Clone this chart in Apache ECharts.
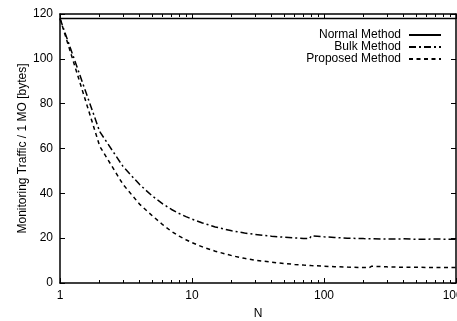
<!DOCTYPE html>
<html>
<head>
<meta charset="utf-8">
<script src="https://cdn.jsdelivr.net/npm/echarts@6/dist/echarts.min.js"></script>
<style>
  html, body { margin: 0; padding: 0; background: #fff; }
  #chart { width: 457px; height: 321px; }
</style>
</head>
<body>
<div id="chart"></div>
<script>
// Monitoring traffic per MO versus N (log scale)
const seriesNames = ['Normal Method', 'Bulk Method', 'Proposed Method'];

const normalN = [1, 1000];
const normalValues = [118, 118];

const bulkN = [1, 2, 3, 4, 5, 6, 7, 8, 9, 10, 12, 15, 20, 25, 30, 40, 50, 60, 70, 78, 80, 100, 120, 150, 200, 300, 400, 500, 700, 1000];
const bulkValues = [118, 67.5, 52, 44, 38.8, 35.3, 32.8, 31.0, 29.6, 28.5, 26.8, 25.0, 23.3, 22.3, 21.7, 20.9, 20.4, 20.1, 19.9, 19.8, 21.0, 20.6, 20.3, 20.0, 19.8, 19.6, 19.7, 19.5, 19.6, 19.5];

const proposedN = [1, 2, 3, 4, 5, 6, 7, 8, 9, 10, 12, 15, 20, 25, 30, 40, 50, 60, 70, 80, 100, 120, 150, 200, 220, 230, 300, 400, 500, 700, 1000];
const proposedValues = [118, 61, 44, 35.2, 30.0, 26.0, 23.0, 20.9, 19.3, 18.0, 16.1, 14.2, 12.2, 11.0, 10.2, 9.3, 8.7, 8.3, 8.0, 7.8, 7.5, 7.3, 7.1, 6.9, 6.8, 7.5, 7.2, 7.0, 7.0, 6.9, 6.9];

const xMajorTicks = [1, 10, 100, 1000];
const xMinorTicks = [2, 3, 4, 5, 6, 7, 8, 9, 20, 30, 40, 50, 60, 70, 80, 90, 200, 300, 400, 500, 600, 700, 800, 900];
const yTicks = [0, 20, 40, 60, 80, 100, 120];

const FONT = 'Liberation Sans, Arial, sans-serif';
const pairs = (xs, ys) => xs.map((x, i) => [x, ys[i]]);

const frameLine = { show: true, onZero: false, lineStyle: { color: '#000', width: 1.5 } };
const hiddenLine = { show: false, onZero: false };

function logAxis(position, opts) {
  return Object.assign({
    type: 'log', logBase: 10, min: 1, max: 1000, position: position,
    splitLine: { show: false }, minorTick: { show: false }
  }, opts);
}

const chart = echarts.init(document.getElementById('chart'), null, { renderer: 'canvas' });
chart.setOption({
  animation: false,
  backgroundColor: '#fff',
  textStyle: { fontFamily: FONT, color: '#000' },
  grid: { left: 60, right: 1, top: 14, bottom: 38, containLabel: false, outerBoundsMode: 'none' },
  legend: {
    orient: 'vertical', right: 15, top: 29, align: 'right',
    itemWidth: 32, itemHeight: 12, itemGap: 0, padding: 0,
    itemStyle: { opacity: 0 },
    textStyle: { fontFamily: FONT, fontSize: 12, color: '#000', padding: [0, 3, 0, 0] },
    data: seriesNames
  },
  xAxis: [
    logAxis('bottom', {
      name: 'N', nameLocation: 'middle', nameGap: 25, nameMoveOverlap: false,
      nameTextStyle: { fontFamily: FONT, fontSize: 12, color: '#000' },
      axisLine: frameLine,
      axisTick: { inside: true, length: 5, customValues: xMajorTicks, lineStyle: { color: '#000', width: 1 } },
      axisLabel: {
        customValues: xMajorTicks, margin: 7, fontFamily: FONT, fontSize: 12, color: '#000',
        showMinLabel: true, showMaxLabel: true, hideOverlap: false,
        formatter: (v) => String(Math.round(v))
      }
    }),
    logAxis('bottom', {
      axisLine: hiddenLine,
      axisTick: { inside: true, length: 3, customValues: xMinorTicks, lineStyle: { color: '#000', width: 1 } },
      axisLabel: { show: false }
    }),
    logAxis('top', {
      axisLine: frameLine,
      axisTick: { inside: true, length: 5, customValues: xMajorTicks, lineStyle: { color: '#000', width: 1 } },
      axisLabel: { show: false }
    }),
    logAxis('top', {
      axisLine: hiddenLine,
      axisTick: { inside: true, length: 3, customValues: xMinorTicks, lineStyle: { color: '#000', width: 1 } },
      axisLabel: { show: false }
    })
  ],
  yAxis: [
    {
      type: 'value', min: 0, max: 120, interval: 20, position: 'left',
      name: 'Monitoring Traffic / 1 MO [bytes]', nameLocation: 'middle', nameGap: 31, nameMoveOverlap: false,
      nameTextStyle: { fontFamily: FONT, fontSize: 12, color: '#000' },
      axisLine: frameLine,
      axisTick: { inside: true, length: 5, customValues: yTicks, lineStyle: { color: '#000', width: 1 } },
      axisLabel: { margin: 7, fontFamily: FONT, fontSize: 12, color: '#000' },
      splitLine: { show: false }
    },
    {
      type: 'value', min: 0, max: 120, interval: 20, position: 'right',
      axisLine: frameLine,
      axisTick: { inside: true, length: 5, customValues: yTicks, lineStyle: { color: '#000', width: 1 } },
      axisLabel: { show: false },
      splitLine: { show: false }
    }
  ],
  series: [
    {
      name: seriesNames[0], type: 'line', xAxisIndex: 0, yAxisIndex: 0,
      data: pairs(normalN, normalValues), showSymbol: false, symbol: 'none',
      color: '#000', lineStyle: { color: '#000', width: 1.5, type: 'solid' }
    },
    {
      name: seriesNames[1], type: 'line', xAxisIndex: 0, yAxisIndex: 0,
      data: pairs(bulkN, bulkValues), showSymbol: false, symbol: 'none',
      color: '#000', lineStyle: { color: '#000', width: 1.5, type: [7, 3, 2, 3], cap: 'butt' }
    },
    {
      name: seriesNames[2], type: 'line', xAxisIndex: 0, yAxisIndex: 0,
      data: pairs(proposedN, proposedValues), showSymbol: false, symbol: 'none',
      color: '#000', lineStyle: { color: '#000', width: 1.5, type: [4, 3.5], cap: 'butt' }
    }
  ]
});
</script>
</body>
</html>
